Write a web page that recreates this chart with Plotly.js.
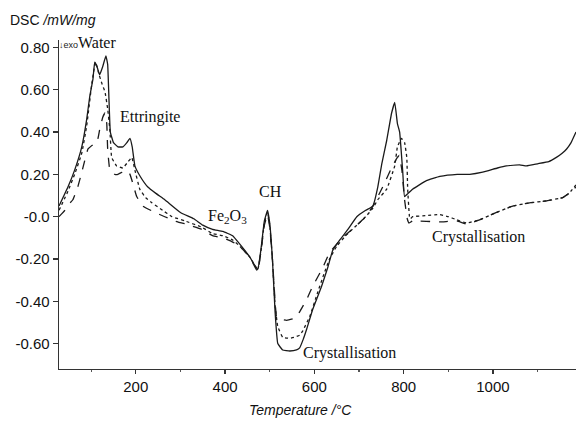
<!DOCTYPE html>
<html>
<head>
<meta charset="utf-8">
<script src="https://cdn.plot.ly/plotly-3.0.1.min.js"></script>
<style>html,body{margin:0;padding:0;background:#fff;}#chart{width:576px;height:426px;}</style>
</head>
<body>
<div id="chart"></div>
<script>
// Sample 1 (solid line)
const tempSolid = [28, 48, 63, 79, 90, 97, 104, 108, 113, 119, 126, 133, 137, 140, 143, 150, 160, 171, 180, 187, 192, 198, 210, 227, 245, 265, 300, 330, 350, 372, 395, 417, 433, 455, 473, 480, 488, 495, 500, 506, 512, 518, 529, 545, 560, 567, 575, 583, 596, 616, 630, 641, 657, 675, 695, 715, 731, 742, 751, 762, 773, 780, 786, 791, 798, 802, 810, 820, 851, 881, 920, 948, 977, 1010, 1030, 1060, 1075, 1100, 1125, 1142, 1155, 1165, 1175, 1186];
const dscSolid = [0.05, 0.14, 0.22, 0.33, 0.46, 0.57, 0.65, 0.73, 0.71, 0.67, 0.71, 0.76, 0.72, 0.55, 0.40, 0.35, 0.33, 0.33, 0.35, 0.37, 0.33, 0.24, 0.19, 0.14, 0.11, 0.08, 0.02, -0.01, -0.04, -0.06, -0.07, -0.09, -0.13, -0.19, -0.25, -0.16, -0.02, 0.03, -0.03, -0.20, -0.45, -0.60, -0.63, -0.635, -0.63, -0.62, -0.58, -0.53, -0.44, -0.33, -0.24, -0.16, -0.11, -0.06, 0.0, 0.03, 0.05, 0.14, 0.25, 0.36, 0.49, 0.54, 0.44, 0.40, 0.21, 0.095, 0.11, 0.13, 0.17, 0.19, 0.20, 0.20, 0.21, 0.23, 0.24, 0.245, 0.24, 0.25, 0.26, 0.28, 0.30, 0.32, 0.35, 0.40];

// Sample 2 (dotted line)
const tempDotted = [28, 48, 63, 79, 90, 101, 106, 110, 118, 124, 131, 137, 142, 146, 157, 171, 183, 191, 198, 209, 222, 236, 260, 281, 310, 348, 372, 395, 417, 433, 455, 473, 480, 488, 495, 500, 506, 512, 518, 529, 545, 556, 567, 574, 590, 607, 620, 634, 650, 670, 695, 715, 731, 742, 762, 780, 786, 795, 802, 807, 809, 813, 815, 820, 850, 881, 900, 919, 941, 970, 1008, 1044, 1082, 1120, 1156, 1170, 1186];
const dscDotted = [0.03, 0.12, 0.20, 0.30, 0.43, 0.62, 0.69, 0.73, 0.67, 0.63, 0.59, 0.51, 0.41, 0.28, 0.24, 0.23, 0.26, 0.28, 0.22, 0.13, 0.09, 0.066, 0.03, 0.0, -0.02, -0.05, -0.08, -0.09, -0.11, -0.14, -0.19, -0.25, -0.17, -0.03, 0.02, -0.04, -0.20, -0.42, -0.52, -0.57, -0.575, -0.57, -0.56, -0.54, -0.47, -0.36, -0.28, -0.20, -0.14, -0.09, -0.04, 0.0, 0.04, 0.08, 0.13, 0.24, 0.33, 0.37, 0.35, 0.28, 0.13, 0.0, -0.01, 0.0, 0.005, 0.01, 0.0, -0.015, -0.03, -0.015, 0.02, 0.05, 0.065, 0.075, 0.09, 0.11, 0.15];

// Sample 3 (dashed line)
const tempDashed = [28, 41, 46, 59, 70, 79, 93, 104, 113, 119, 126, 131, 135, 137, 142, 153, 160, 169, 180, 187, 193, 202, 216, 243, 287, 320, 348, 372, 395, 417, 433, 455, 473, 480, 488, 495, 500, 506, 512, 516, 538, 556, 567, 583, 596, 619, 634, 650, 668, 690, 715, 731, 753, 775, 786, 790, 796, 802, 808, 812, 820, 881, 919, 941, 970, 1008, 1044, 1082, 1120, 1156, 1170, 1186];
const dscDashed = [0.0, 0.03, 0.05, 0.08, 0.14, 0.21, 0.32, 0.34, 0.35, 0.41, 0.47, 0.49, 0.44, 0.32, 0.22, 0.20, 0.20, 0.21, 0.22, 0.20, 0.16, 0.095, 0.05, 0.02, -0.02, -0.04, -0.06, -0.09, -0.10, -0.12, -0.14, -0.19, -0.26, -0.17, -0.04, 0.01, -0.05, -0.20, -0.40, -0.48, -0.49, -0.48, -0.45, -0.39, -0.33, -0.24, -0.17, -0.13, -0.09, -0.05, 0.0, 0.05, 0.14, 0.24, 0.28, 0.29, 0.22, 0.08, -0.01, -0.03, -0.02, -0.025, -0.02, -0.035, -0.015, 0.02, 0.05, 0.065, 0.075, 0.09, 0.11, 0.14];

const yTickVals = [-0.6, -0.4, -0.2, 0, 0.2, 0.4, 0.6, 0.8];
const yTickText = ["-0.60", "-0.40", "-0.20", "-0.0", "0.20", "0.40", "0.60", "0.80"];
const xTickVals = [200, 400, 600, 800, 1000];
const xTickText = ["200", "400", "600", "800", "1000"];

const lineColor = '#1a1a1a';
const traces = [
  {x: tempSolid, y: dscSolid, mode: 'lines', line: {color: lineColor, width: 1.3, dash: 'solid', shape: 'spline', smoothing: 0.3}, hoverinfo: 'skip'},
  {x: tempDotted, y: dscDotted, mode: 'lines', line: {color: lineColor, width: 1.3, dash: 'dot', shape: 'spline', smoothing: 0.3}, hoverinfo: 'skip'},
  {x: tempDashed, y: dscDashed, mode: 'lines', line: {color: lineColor, width: 1.3, dash: 'dash', shape: 'spline', smoothing: 0.3}, hoverinfo: 'skip'}
];

const serif = 'Liberation Serif, Times New Roman, serif';
const sans = 'Liberation Sans, Arial, sans-serif';
const layout = {
  width: 576, height: 426,
  margin: {l: 59, r: 0, t: 40, b: 57},
  paper_bgcolor: '#fff', plot_bgcolor: '#fff',
  showlegend: false,
  xaxis: {
    range: [28, 1186], showgrid: false, zeroline: false,
    showline: true, linecolor: '#333', linewidth: 1.3,
    ticks: 'outside', ticklen: 4, tickcolor: '#333', tickwidth: 1.2,
    tickvals: xTickVals, ticktext: xTickText,
    tickfont: {family: sans, size: 15, color: '#111'},
    minor: {dtick: 100, tick0: 0, ticks: 'outside', ticklen: 2, tickcolor: '#555', showgrid: false}
  },
  yaxis: {
    range: [-0.72, 0.835], showgrid: false, zeroline: false,
    showline: true, linecolor: '#333', linewidth: 1.3,
    ticks: 'outside', ticklen: 5, tickcolor: '#333', tickwidth: 1.2,
    tickvals: yTickVals, ticktext: yTickText,
    tickfont: {family: sans, size: 15, color: '#111'}
  },
  annotations: [
    {xref: 'paper', yref: 'paper', x: (8 - 59) / 517, y: (369 - 20) / 329, xanchor: 'left', yanchor: 'middle', showarrow: false,
     text: 'DSC <i>/mW/mg</i>', font: {family: sans, size: 14, color: '#111'}},
    {xref: 'paper', yref: 'paper', x: (300 - 59) / 517, y: (369 - 410) / 329, xanchor: 'center', yanchor: 'middle', showarrow: false,
     text: '<i>Temperature /°C</i>', font: {family: sans, size: 14, color: '#111'}},
    {xref: 'paper', yref: 'paper', x: (57 - 59) / 517, y: (369 - 45) / 329, xanchor: 'left', yanchor: 'middle', showarrow: false,
     text: '↓exo', font: {family: sans, size: 9, color: '#222'}},
    {xref: 'x', yref: 'y', x: 66, y: 0.825, xanchor: 'left', yanchor: 'middle', showarrow: false,
     text: 'Water', font: {family: serif, size: 16, color: '#111'}},
    {xref: 'x', yref: 'y', x: 160, y: 0.473, xanchor: 'left', yanchor: 'middle', showarrow: false,
     text: 'Ettringite', font: {family: serif, size: 16, color: '#111'}},
    {xref: 'x', yref: 'y', x: 357, y: 0.0, xanchor: 'left', yanchor: 'middle', showarrow: false,
     text: 'Fe<sub>2</sub>O<sub>3</sub>', font: {family: serif, size: 16, color: '#111'}},
    {xref: 'x', yref: 'y', x: 502, y: 0.118, xanchor: 'center', yanchor: 'middle', showarrow: false,
     text: 'CH', font: {family: serif, size: 16, color: '#111'}},
    {xref: 'x', yref: 'y', x: 569, y: -0.643, xanchor: 'left', yanchor: 'middle', showarrow: false,
     text: 'Crystallisation', font: {family: serif, size: 16, color: '#111'}},
    {xref: 'x', yref: 'y', x: 858, y: -0.095, xanchor: 'left', yanchor: 'middle', showarrow: false,
     text: 'Crystallisation', font: {family: serif, size: 16, color: '#111'}}
  ]
};

Plotly.newPlot('chart', traces, layout, {staticPlot: true, displayModeBar: false});
</script>
</body>
</html>
